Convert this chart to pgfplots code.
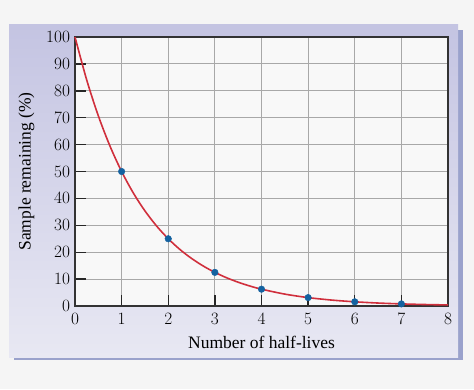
\documentclass[border=0pt]{standalone}
\usepackage{pgfplots}
\pgfplotsset{compat=1.18}
\usepackage{fontspec}
\setmainfont{Liberation Serif}
\definecolor{bggray}{HTML}{F5F5F5}
\definecolor{shadowc}{HTML}{9AA2CC}
\definecolor{paneltop}{HTML}{C4C4E2}
\definecolor{panelbot}{HTML}{E8E8F3}
\definecolor{plotbg}{HTML}{F8F8F8}
\definecolor{gridc}{HTML}{A8A8A8}
\definecolor{curvec}{HTML}{D02F3C}
\definecolor{dotc}{HTML}{1462A0}
\begin{document}
\fontsize{17.5}{20}\selectfont
\begin{tikzpicture}
\fill[bggray] (0pt,0pt) rectangle (474pt,389pt);
\fill[shadowc] (14pt,29pt) rectangle (463pt,359pt);
\shade[top color=paneltop,bottom color=panelbot] (9pt,32pt) rectangle (458pt,364pt);
\begin{axis}[
  at={(75pt,83pt)}, anchor=origin,
  scale only axis, width=373pt, height=269pt,
  xmin=0, xmax=8, ymin=0, ymax=100,
  xtick={0,1,...,8}, ytick={0,10,...,100},
  axis background/.style={fill=plotbg},
  grid=major,
  major grid style={gridc, line width=1.1pt},
  tick align=inside, tick pos=left,
  major tick length=11pt,
  tick style={black!85, line width=1.4pt},
  axis line style={black!80, line width=1.3pt},
  xticklabel style={yshift=-1pt},
  yticklabel style={xshift=1pt},
  xlabel={Number of half-lives},
  ylabel={Sample remaining (\%)},
  xlabel style={yshift=0pt},
  ylabel style={yshift=0pt},
  clip=false,
]
\addplot[curvec, line width=1.6pt, smooth] coordinates {
(0,100) (0.25,84.09) (0.5,70.71) (0.75,59.46) (1,50) (1.25,42.04) (1.5,35.36) (1.75,29.73)
(2,25) (2.25,21.02) (2.5,17.68) (2.75,14.87) (3,12.5) (3.25,10.51) (3.5,8.84) (3.75,7.43)
(4,6.25) (4.5,4.42) (5,3.125) (5.5,2.21) (6,1.5625) (6.5,1.10) (7,0.78) (7.5,0.55) (8,0.39)
};
\addplot[only marks, mark=*, mark size=3.3pt, mark options={fill=dotc, draw=dotc}] coordinates {
(1,50) (2,25) (3,12.5) (4,6.25) (5,3.125) (6,1.5625) (7,0.78)
};
\end{axis}
\end{tikzpicture}
\end{document}
